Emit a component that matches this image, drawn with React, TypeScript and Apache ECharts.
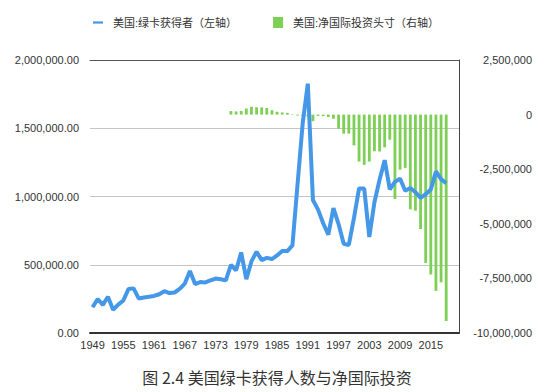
import React, { useEffect, useRef } from "react";
import * as echarts from "echarts";

const years: string[] = Array.from({ length: 72 }, (_, i) => String(1949 + i));

// 美国:绿卡获得者（左轴） 1949–2018
const greenCard: (number | null)[] = [
  188317, 249187, 205717, 265520, 170434, 208177, 237790, 321625, 326867, 253265,
  260686, 265398, 271344, 283763, 306260, 292248, 296697, 323040, 361972, 454448,
  358579, 373326, 370478, 384685, 398515, 393919, 385378, 499093, 458755, 589810,
  394244, 524295, 595014, 533624, 550052, 541811, 568149, 600027, 599889, 641346,
  1090172, 1535872, 1826595, 973977, 903916, 803993, 720177, 915560, 797847, 653206,
  644787, 841002, 1058902, 1059356, 703542, 957883, 1122257, 1266129, 1052415, 1107126,
  1130818, 1042625, 1062040, 1031631, 990553, 1016518, 1051031, 1183505, 1127167, 1096611,
  null, null,
];

// 美国:净国际投资头寸（右轴） 1976–2018
const niipFrom1976: number[] = [
  160000, 145000, 165000, 280000, 360000, 340000, 330000, 300000, 200000, 130000,
  100000, 80000, -20000, -40000, -60000, -80000, -300000, -60000, -70000, -110000,
  -190000, -640000, -870000, -870000, -1410000, -2150000, -2300000, -2150000, -1680000, -1690000,
  -1500000, -1150000, -3860000, -2520000, -2440000, -4340000, -4400000, -5240000, -6790000, -7320000,
  -8070000, -7680000, -9450000,
];
const niip: (number | null)[] = [
  ...Array(27).fill(null),
  ...niipFrom1976,
  null, null,
];

const leftTicks = { min: 0, max: 2000000, interval: 500000 };
const rightTicks = { min: -10000000, max: 2500000, interval: 2500000 };

const lineName = "美国:绿卡获得者（左轴）";
const barName = "美国:净国际投资头寸（右轴）";
const caption = "图 2.4 美国绿卡获得人数与净国际投资";

const FONT = "'Liberation Sans', Arial, 'Noto Sans CJK SC', sans-serif";

export default function App() {
  const ref = useRef<HTMLDivElement>(null);
  useEffect(() => {
    if (!ref.current) return;
    const chart = echarts.init(ref.current, null, { renderer: "svg" });
    chart.setOption({
      animation: false,
      backgroundColor: "#ffffff",
      textStyle: { fontFamily: FONT },
      legend: {
        left: 88,
        top: 12,
        itemWidth: 10,
        itemHeight: 11,
        itemGap: 36,
        textStyle: { fontSize: 11, color: "#333", fontFamily: FONT, padding: [0, 0, 0, 5] },
        data: [
          { name: lineName, icon: "path://M0,0 H9 V2 H0 Z", itemStyle: { color: "#4597E8" } },
          { name: barName, icon: "rect" },
        ],
      },
      grid: { left: 90, right: 91, top: 60, bottom: 59, containLabel: false },
      xAxis: [
        {
          type: "category",
          data: years,
          boundaryGap: true,
          axisLine: { show: true, onZero: false, lineStyle: { color: "#333", width: 2 } },
          axisTick: { show: false },
          axisLabel: { interval: 5, fontSize: 11, color: "#333", margin: 6, fontFamily: FONT },
          splitLine: { show: false },
        },
        {
          type: "category",
          data: years,
          position: "top",
          axisLine: { show: true, onZero: false, lineStyle: { color: "#555", width: 1 } },
          axisTick: { show: false },
          axisLabel: { show: false },
          splitLine: { show: false },
        },
      ],
      yAxis: [
        {
          type: "value",
          position: "left",
          ...leftTicks,
          axisLine: { show: false },
          axisTick: { show: false },
          axisLabel: {
            fontSize: 11,
            color: "#333",
            margin: 11,
            fontFamily: FONT,
            formatter: (v: number) =>
              v.toLocaleString("en-US", { minimumFractionDigits: 2, maximumFractionDigits: 2 }),
          },
          splitLine: { show: true, lineStyle: { color: "#c4c4c4", width: 1 } },
        },
        {
          type: "value",
          position: "right",
          ...rightTicks,
          axisLine: { show: true, onZero: false, lineStyle: { color: "#444", width: 1 } },
          axisTick: { show: false },
          axisLabel: {
            fontSize: 11,
            color: "#333",
            margin: 73,
            align: "right",
            fontFamily: FONT,
            formatter: (v: number) => v.toLocaleString("en-US"),
          },
          splitLine: { show: false },
        },
      ],
      series: [
        {
          name: barName,
          type: "bar",
          xAxisIndex: 0,
          yAxisIndex: 1,
          data: niip,
          barWidth: "55%",
          itemStyle: { color: "#7DCF55" },
          z: 2,
        },
        {
          name: lineName,
          type: "line",
          xAxisIndex: 0,
          yAxisIndex: 0,
          data: greenCard,
          showSymbol: false,
          symbol: "none",
          lineStyle: { color: "#4597E8", width: 4 },
          itemStyle: { color: "#4597E8" },
          z: 3,
        },
      ],
      graphic: [
        {
          type: "text",
          x: 277,
          y: 377,
          style: {
            text: caption,
            fontSize: 16,
            fill: "#333",
            fontFamily: "'Noto Sans CJK SC', sans-serif",
            textAlign: "center",
            textVerticalAlign: "middle",
          },
        },
      ],
    });
    return () => chart.dispose();
  }, []);
  return (
    <div
      ref={ref}
      style={{ position: "fixed", left: 0, top: 0, width: 550, height: 392, background: "#fff" }}
    />
  );
}
